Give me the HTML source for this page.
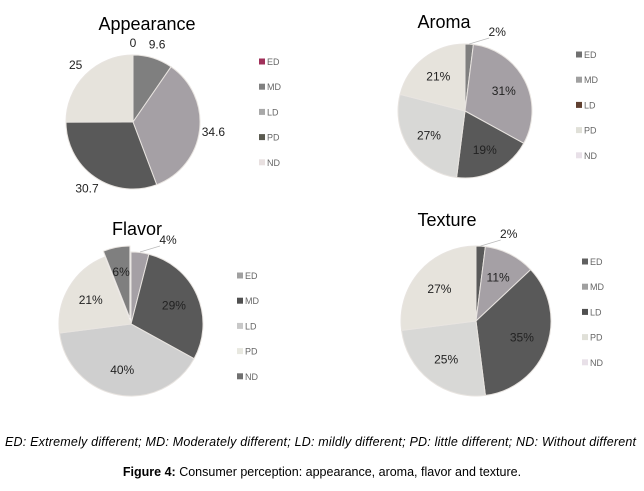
<!DOCTYPE html>
<html><head><meta charset="utf-8"><style>
body{margin:0;background:#fff;width:644px;height:486px;overflow:hidden;font-family:"Liberation Sans",sans-serif}
</style></head><body>
<svg id="s" width="644" height="486">
<text x="5" y="446" textLength="631" lengthAdjust="spacing" font-size="12.5" font-style="italic" fill="#000">ED: Extremely different; MD: Moderately  different; LD: mildly  different; PD: little  different; ND: Without  different</text>
<text x="322" y="476" text-anchor="middle" font-size="12.5" fill="#000"><tspan font-weight="bold">Figure 4:</tspan> Consumer perception: appearance, aroma, flavor and texture.</text>
</svg>
<script>
const categories=["ED","MD","LD","PD","ND"];
const appearanceValues=[0,9.6,34.6,30.7,25];
const appearanceLabels=["0","9.6","34.6","30.7","25"];
const aromaValues=[2,31,19,27,21];
const aromaLabels=["2%","31%","19%","27%","21%"];
const flavorValues=[4,29,40,21,6];
const flavorLabels=["4%","29%","40%","21%","6%"];
const textureValues=[2,11,35,25,27];
const textureLabels=["2%","11%","35%","25%","27%"];

const NS="http://www.w3.org/2000/svg";
const svg=document.getElementById('s');
function mk(t,a){const e=document.createElementNS(NS,t);for(const k in a)e.setAttribute(k,a[k]);svg.appendChild(e);return e;}
const charts=[
 {name:'appearance',title:'Appearance',tx:147,ty:30,cx:133,cy:122,r:67,vals:appearanceValues,labs:appearanceLabels,
  cols:['#9a3060','#7f7f7f','#a5a0a5','#595959','#e6e3dc'],sw:['#a0305a','#808080','#a8a8a8','#5a5a50','#e8e0e0'],
  lx:259,ly:62,outside:true,explode:-1},
 {name:'aroma',title:'Aroma',tx:444,ty:28,cx:465,cy:111,r:67,vals:aromaValues,labs:aromaLabels,
  cols:['#7f7f7f','#a5a0a5','#595959','#d8d8d6','#e6e3dc'],sw:['#707070','#a0a0a0','#604030','#e0e0d8','#e8e0e8'],
  lx:576,ly:55,outside:false,explode:-1},
 {name:'flavor',title:'Flavor',tx:137,ty:235,cx:131,cy:324,r:72,vals:flavorValues,labs:flavorLabels,
  cols:['#a5a0a5','#595959','#cfcfcf','#e6e3dc','#7f7f7f'],sw:['#a0a0a0','#505050','#c8c8c8','#e8e8e0','#707070'],
  lx:237,ly:276,outside:false,explode:4},
 {name:'texture',title:'Texture',tx:447,ty:226,cx:476,cy:321,r:75,vals:textureValues,labs:textureLabels,
  cols:['#595959','#a5a0a5','#595959','#d8d8d6','#e6e3dc'],sw:['#606060','#a0a0a0','#505050','#e0e0d8','#e8e0e8'],
  lx:582,ly:262,outside:false,explode:-1}
];
charts.forEach(c=>{
 const tot=c.vals.reduce((a,b)=>a+b,0);
 let a0=0;
 const t=mk('text',{x:c.tx,y:c.ty,'text-anchor':'middle','font-size':18,fill:'#000'});
 t.textContent=c.title;
 
 
 c.vals.forEach((v,i)=>{
  const a1=a0+v/tot*2*Math.PI;
  const mid=(a0+a1)/2;
  let ox=0,oy=0;
  if(i===c.explode){ox=Math.sin(mid)*6;oy=-Math.cos(mid)*6;}
  const cx=c.cx+ox,cy=c.cy+oy;
  if(v>0){
   const x0=cx+c.r*Math.sin(a0),y0=cy-c.r*Math.cos(a0),x1=cx+c.r*Math.sin(a1),y1=cy-c.r*Math.cos(a1);
   const large=(a1-a0)>Math.PI?1:0;
   const p=mk('path',{d:`M${cx},${cy}L${x0},${y0}A${c.r},${c.r} 0 ${large} 1 ${x1},${y1}Z`,fill:c.cols[i],stroke:'#e8e4e0','stroke-width':1});
   
   
  }
  let lx,ly,anchor='middle';
  const small=v/tot<0.05;
  if(c.outside){
   const rr=c.r+14;lx=c.cx+rr*Math.sin(mid);ly=c.cy-rr*Math.cos(mid)+4;
   if(v===0){lx=c.cx;ly=c.cy-c.r-8;}
  }else if(small && i!==c.explode){
   lx=c.cx+28+Math.sin(mid)*c.r;ly=c.cy-c.r-8;
   mk('line',{x1:c.cx+Math.sin(mid)*c.r,y1:c.cy-c.r,x2:lx-8,y2:ly+2,stroke:'#bbb','stroke-width':0.8});
  }else{
   const rr=c.r*0.65;lx=cx+rr*Math.sin(mid);ly=cy-rr*Math.cos(mid)+4;
  }
  const lt=mk('text',{x:lx,y:ly,'text-anchor':anchor,'font-size':12,fill:'#222'});
  lt.textContent=c.labs[i];
  
  
  const ey=c.ly+i*25.2;
  const sq=mk('rect',{x:c.lx,y:ey-3.5,width:6,height:6,fill:c.sw[i]});
  
  
  const le=mk('text',{x:c.lx+8,y:ey+3,'font-size':9,fill:'#666'});
  le.textContent=categories[i];
  
  
  a0=a1;
 });
});
</script>
</body></html>
